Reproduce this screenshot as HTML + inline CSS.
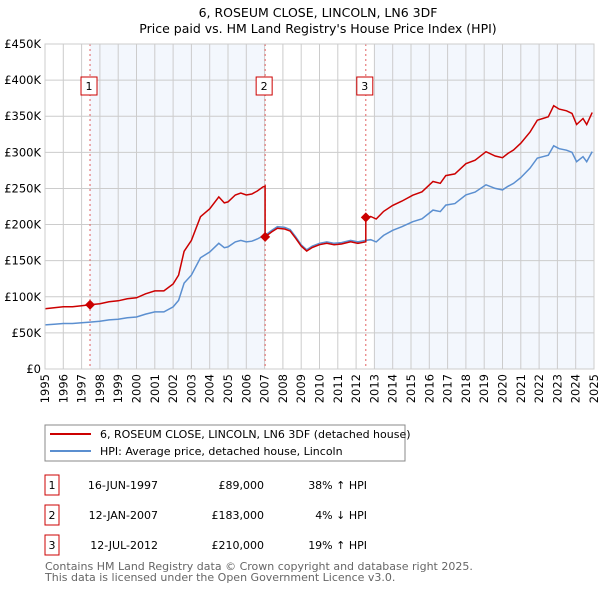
<!DOCTYPE html>
<html><head><meta charset="utf-8"><style>
body{margin:0;background:#fff;font-family:"DejaVu Sans","Liberation Sans",sans-serif;}
svg text{font-family:"DejaVu Sans","Liberation Sans",sans-serif;}
</style></head><body>
<svg id="chart" width="600" height="590" xmlns="http://www.w3.org/2000/svg">
<text x="318" y="17" text-anchor="middle" font-size="12.5">6, ROSEUM CLOSE, LINCOLN, LN6 3DF</text>
<text x="318" y="33" text-anchor="middle" font-size="12.5">Price paid vs. HM Land Registry's House Price Index (HPI)</text>
<g id="plot"></g>
<rect x="45" y="425" width="360" height="36" fill="#fff" stroke="#888"/>
<line x1="50" y1="434" x2="91" y2="434" stroke="#cc0000" stroke-width="2"/>
<text x="100" y="438" font-size="11">6, ROSEUM CLOSE, LINCOLN, LN6 3DF (detached house)</text>
<line x1="50" y1="451" x2="91" y2="451" stroke="#5b8fd0" stroke-width="2"/>
<text x="100" y="455" font-size="11">HPI: Average price, detached house, Lincoln</text>
<g id="table" font-size="11"></g>
<text x="45" y="570" font-size="11" fill="#666">Contains HM Land Registry data © Crown copyright and database right 2025.</text>
<text x="45" y="581" font-size="11" fill="#666">This data is licensed under the Open Government Licence v3.0.</text>
</svg>
<script>
const hpiYears=[1995,1995.5,1996,1996.5,1997,1997.46,1998,1998.5,1999,1999.5,2000,2000.5,2001,2001.5,2002,2002.3,2002.6,2003,2003.5,2004,2004.5,2004.8,2005,2005.4,2005.7,2006,2006.3,2006.6,2006.9,2007.03,2007.4,2007.7,2008.1,2008.4,2008.7,2009,2009.3,2009.6,2010,2010.4,2010.8,2011.2,2011.7,2012.1,2012.53,2012.8,2013.1,2013.5,2014,2014.5,2015.1,2015.6,2016.2,2016.6,2016.9,2017.4,2018,2018.5,2019.1,2019.6,2020,2020.3,2020.6,2021,2021.5,2021.9,2022.2,2022.5,2022.8,2023.1,2023.5,2023.8,2024.05,2024.4,2024.6,2024.9];
const hpiValues=[61,62,63,63,64,65,66,68,69,71,72,76,79,79,86,95,119,130,154,162,174,168,169,176,178,176,177,180,184,185,192,197,196,193,183,172,165,170,174,176,174,175,178,176,178,179,176,185,192,197,204,208,220,218,227,229,241,245,255,250,248,253,257,265,278,292,294,296,309,305,303,300,287,294,287,301];
const saleYears=[1997.46,2007.03,2012.53];
const salePrices=[89,183,210];
const saleLabels=["1","2","3"];
const saleDates=["16-JUN-1997","12-JAN-2007","12-JUL-2012"];
const salePriceText=["£89,000","£183,000","£210,000"];
const saleHpiText=["38% ↑ HPI","4% ↓ HPI","19% ↑ HPI"];
const yTicks=[0,50,100,150,200,250,300,350,400,450];
const yTickLabels=["£0","£50K","£100K","£150K","£200K","£250K","£300K","£350K","£400K","£450K"];
const xTicks=[1995,1996,1997,1998,1999,2000,2001,2002,2003,2004,2005,2006,2007,2008,2009,2010,2011,2012,2013,2014,2015,2016,2017,2018,2019,2020,2021,2022,2023,2024,2025];

const X0=45,X1=594,Y0=369,Y1=44;
const xs=y=>X0+(y-1995)/30*(X1-X0);
const ys=v=>Y0-v/450*(Y0-Y1);
const NS="http://www.w3.org/2000/svg";
const plot=document.getElementById('plot');
function mk(tag,attrs,parent){const e=document.createElementNS(NS,tag);for(const k in attrs)e.setAttribute(k,attrs[k]);(parent||plot).appendChild(e);return e;}
function hpiAt(t){for(let i=0;i<hpiYears.length-1;i++){if(t>=hpiYears[i]&&t<=hpiYears[i+1]){const f=(t-hpiYears[i])/(hpiYears[i+1]-hpiYears[i]);return hpiValues[i]+f*(hpiValues[i+1]-hpiValues[i]);}}return hpiValues[hpiValues.length-1];}

let sh=mk('rect',{x:xs(saleYears[0]),y:Y1,width:xs(saleYears[1])-xs(saleYears[0]),height:Y0-Y1,fill:'#eef3fc',opacity:0.7});


let sh2=mk('rect',{x:xs(2013),y:Y1,width:X1-xs(2013),height:Y0-Y1,fill:'#eef3fc',opacity:0.7});



yTicks.forEach((v,i)=>{
 let l=mk('line',{x1:X0,x2:X1,y1:ys(v),y2:ys(v),stroke:'#ccc','stroke-width':1});
 
 
 let t=mk('text',{x:X0-4,y:ys(v)+4,'text-anchor':'end','font-size':11.5});
 t.textContent=yTickLabels[i];
 
 
});
xTicks.forEach(y=>{
 let l=mk('line',{x1:xs(y),x2:xs(y),y1:Y1,y2:Y0,stroke:'#ccc','stroke-width':1});
 
 
 const tx=xs(y)+4,ty=374;
 let t=mk('text',{x:tx,y:ty,'text-anchor':'end','font-size':11.5,transform:`rotate(-90 ${tx} ${ty})`});
 t.textContent=String(y);
 
 
});

saleYears.forEach((s,i)=>{
 let l=mk('line',{x1:xs(s),x2:xs(s),y1:Y1,y2:Y0,stroke:'#e06060','stroke-width':1,'stroke-dasharray':'2,3'});
 
 
 let b=mk('rect',{x:xs(s)-9,y:77,width:16,height:18,fill:'#fff',stroke:'#cc0000'});
 
 
 let t=mk('text',{x:xs(s)-1,y:90,'text-anchor':'middle','font-size':11});
 t.textContent=saleLabels[i];
 
 
});

let d='';hpiYears.forEach((y,i)=>{d+=(i?'L':'M')+xs(y).toFixed(1)+','+ys(hpiValues[i]).toFixed(1);});
let hl=mk('path',{d:d,fill:'none',stroke:'#5b8fd0','stroke-width':1.5});



function ratio(seg){return salePrices[seg]/hpiAt(saleYears[seg]);}
let pd='';let first=true;
const allPts=[];
hpiYears.forEach(y=>allPts.push(y));
saleYears.forEach((s,k)=>{ if(k>0){allPts.push(s-0.001);} allPts.push(s); });
allPts.sort((a,b)=>a-b);
allPts.forEach(y=>{
 let seg=0;if(y>=saleYears[1])seg=1;if(y>=saleYears[2])seg=2;
 const v=hpiAt(y)*ratio(seg);
 pd+=(first?'M':'L')+xs(y).toFixed(1)+','+ys(v).toFixed(1);first=false;
});
let pl=mk('path',{d:pd,fill:'none',stroke:'#cc0000','stroke-width':1.5});



saleYears.forEach((s,i)=>{
 const cx=xs(s),cy=ys(salePrices[i]);
 let p=mk('path',{d:`M${cx},${cy-5}L${cx+5},${cy}L${cx},${cy+5}L${cx-5},${cy}Z`,fill:'#cc0000'});
 
 
});
let ax=mk('rect',{x:X0,y:Y1,width:X1-X0,height:Y0-Y1,fill:'none',stroke:'#ccc'});



const tbl=document.getElementById('table');
const rowY=[485,515,545];
saleLabels.forEach((lab,i)=>{
 const y=rowY[i];
 let b=mk('rect',{x:45,y:y-10,width:14,height:20,fill:'#fff',stroke:'#cc0000'},tbl);
 
 
 let t=mk('text',{x:52,y:y+4,'text-anchor':'middle'},tbl);t.textContent=lab;
 
 
 let d1=mk('text',{x:158,y:y+4,'text-anchor':'end'},tbl);d1.textContent=saleDates[i];
 
 
 let d2=mk('text',{x:264,y:y+4,'text-anchor':'end'},tbl);d2.textContent=salePriceText[i];
 
 
 let d3=mk('text',{x:367,y:y+4,'text-anchor':'end'},tbl);d3.textContent=saleHpiText[i];
 
 
});
</script>
</body></html>
